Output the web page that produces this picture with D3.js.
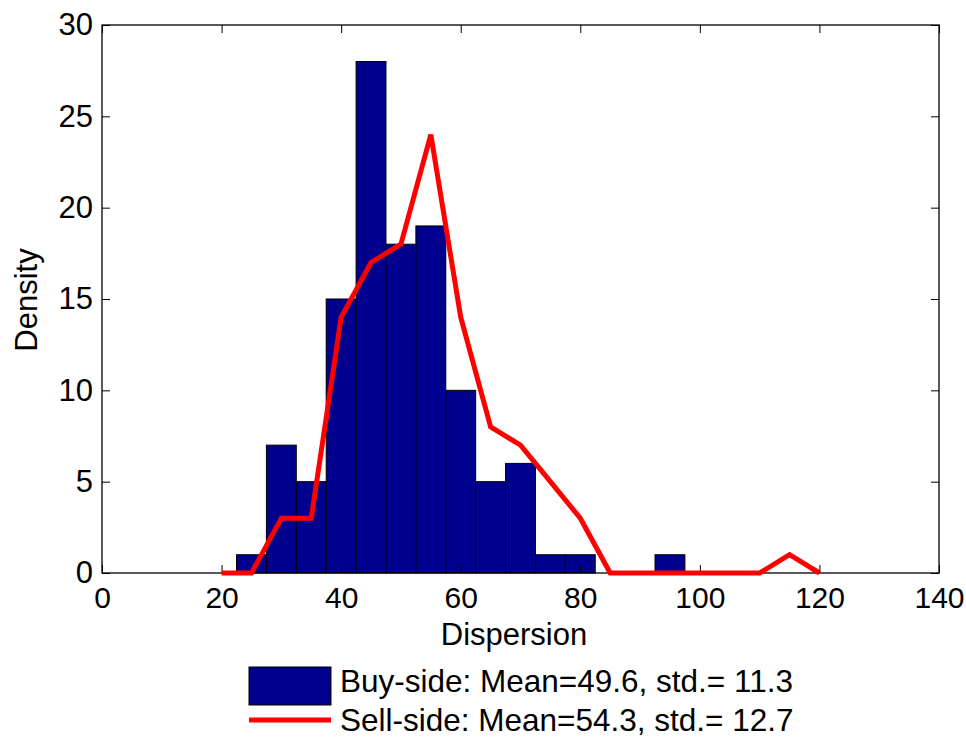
<!DOCTYPE html>
<meta charset="utf-8">
<style>
  body { margin: 0; background: #fff; }
  text { font-family: "Liberation Sans", Arial, sans-serif; fill: #000; }
</style>
<svg width="966" height="740"></svg>
<script src="https://d3js.org/d3.v7.min.js"></script>
<script>

    // buy-side histogram (bin centres, counts)
    var binCenters = [20, 25, 30, 35, 40, 45, 50, 55, 60, 65, 70, 75, 80, 85, 90, 95, 100, 105, 110, 115, 120, 125];
    var buyCounts  = [0, 1, 7, 5, 15, 28, 18, 19, 10, 5, 6, 1, 1, 0, 0, 1, 0, 0, 0, 0, 0, 0];

    // sell-side line
    var sellX = [20, 25, 30, 35, 40, 45, 50, 55, 60, 65, 70, 75, 80, 85, 90, 95, 100, 105, 110, 115, 120];
    var sellY = [0, 0, 3, 3, 14, 17, 18, 24, 14, 8, 7, 5, 3, 0, 0, 0, 0, 0, 0, 1, 0];

    var xTicks = [0, 20, 40, 60, 80, 100, 120, 140];
    var yTicks = [0, 5, 10, 15, 20, 25, 30];
    var binWidth = 5;

    var legendLabels = ["Buy-side: Mean=49.6, std.= 11.3", "Sell-side: Mean=54.3, std.= 12.7"];

    var svg = d3.select("svg");
    var mLeft = 102, mRight = 939, mTop = 25, mBottom = 573;

    var x = d3.scaleLinear().domain([0, 140]).range([mLeft, mRight]);
    var y = d3.scaleLinear().domain([0, 30]).range([mBottom, mTop]);

    var barColor = "#00008f";
    var fontFam = "'Liberation Sans', Arial, sans-serif";

    // bars
    svg.append("g").selectAll("rect")
        .data(binCenters)
        .enter().append("rect")
        .attr("x", function(d) { return x(d - binWidth / 2); })
        .attr("width", function(d) { return x(d + binWidth / 2) - x(d - binWidth / 2); })
        .attr("y", function(d, i) { return y(buyCounts[i]); })
        .attr("height", function(d, i) { return y(0) - y(buyCounts[i]); })
        .attr("fill", barColor)
        .attr("stroke", "#000")
        .attr("stroke-width", 1);

    // frame
    svg.append("rect")
        .attr("x", mLeft).attr("y", mTop)
        .attr("width", mRight - mLeft).attr("height", mBottom - mTop)
        .attr("fill", "none").attr("stroke", "#000").attr("stroke-width", 1.3);

    // axes with inward ticks
    var xAxis = svg.append("g").attr("transform", "translate(0," + mBottom + ")")
        .call(d3.axisBottom(x).tickValues(xTicks).tickSize(-8).tickPadding(14));
    var xTop = svg.append("g").attr("transform", "translate(0," + mTop + ")")
        .call(d3.axisTop(x).tickValues(xTicks).tickSize(-8).tickFormat(""));
    var yAxis = svg.append("g").attr("transform", "translate(" + mLeft + ",0)")
        .call(d3.axisLeft(y).tickValues(yTicks).tickSize(-8).tickPadding(9));
    var yRight = svg.append("g").attr("transform", "translate(" + mRight + ",0)")
        .call(d3.axisRight(y).tickValues(yTicks).tickSize(-8).tickFormat(""));

    [xAxis, xTop, yAxis, yRight].forEach(function(a) {
        a.select(".domain").remove();
        a.selectAll("line").attr("stroke", "#000");
        a.selectAll("text").style("font-family", fontFam);
    });
    xAxis.selectAll("text").style("font-size", "30px");
    yAxis.selectAll("text").style("font-size", "31px");

    // sell-side line
    var line = d3.line()
        .x(function(d) { return x(d); })
        .y(function(d, i) { return y(sellY[i]); });

    svg.append("path")
        .datum(sellX)
        .attr("d", line)
        .attr("fill", "none")
        .attr("stroke", "#ff0000")
        .attr("stroke-width", 5)
        .attr("stroke-linejoin", "miter");

    // axis labels
    svg.append("text")
        .attr("x", 514).attr("y", 645)
        .attr("text-anchor", "middle")
        .style("font-size", "31px")
        .text("Dispersion");

    svg.append("text")
        .attr("transform", "translate(37," + ((mTop + mBottom) / 2 + 1) + ") rotate(-90)")
        .attr("text-anchor", "middle")
        .style("font-size", "31px")
        .text("Density");

    // legend
    var lg = svg.append("g");
    lg.append("rect")
        .attr("x", 249).attr("y", 667).attr("width", 82).attr("height", 38)
        .attr("fill", barColor).attr("stroke", "#000").attr("stroke-width", 1);
    lg.append("line")
        .attr("x1", 249).attr("x2", 331).attr("y1", 720).attr("y2", 720)
        .attr("stroke", "#ff0000").attr("stroke-width", 5);
    lg.selectAll("text.leg")
        .data(legendLabels)
        .enter().append("text")
        .attr("class", "leg")
        .attr("x", 340)
        .attr("y", function(d, i) { return 692 + i * 39; })
        .style("font-size", "31.5px")
        .text(function(d) { return d; });

</script>
